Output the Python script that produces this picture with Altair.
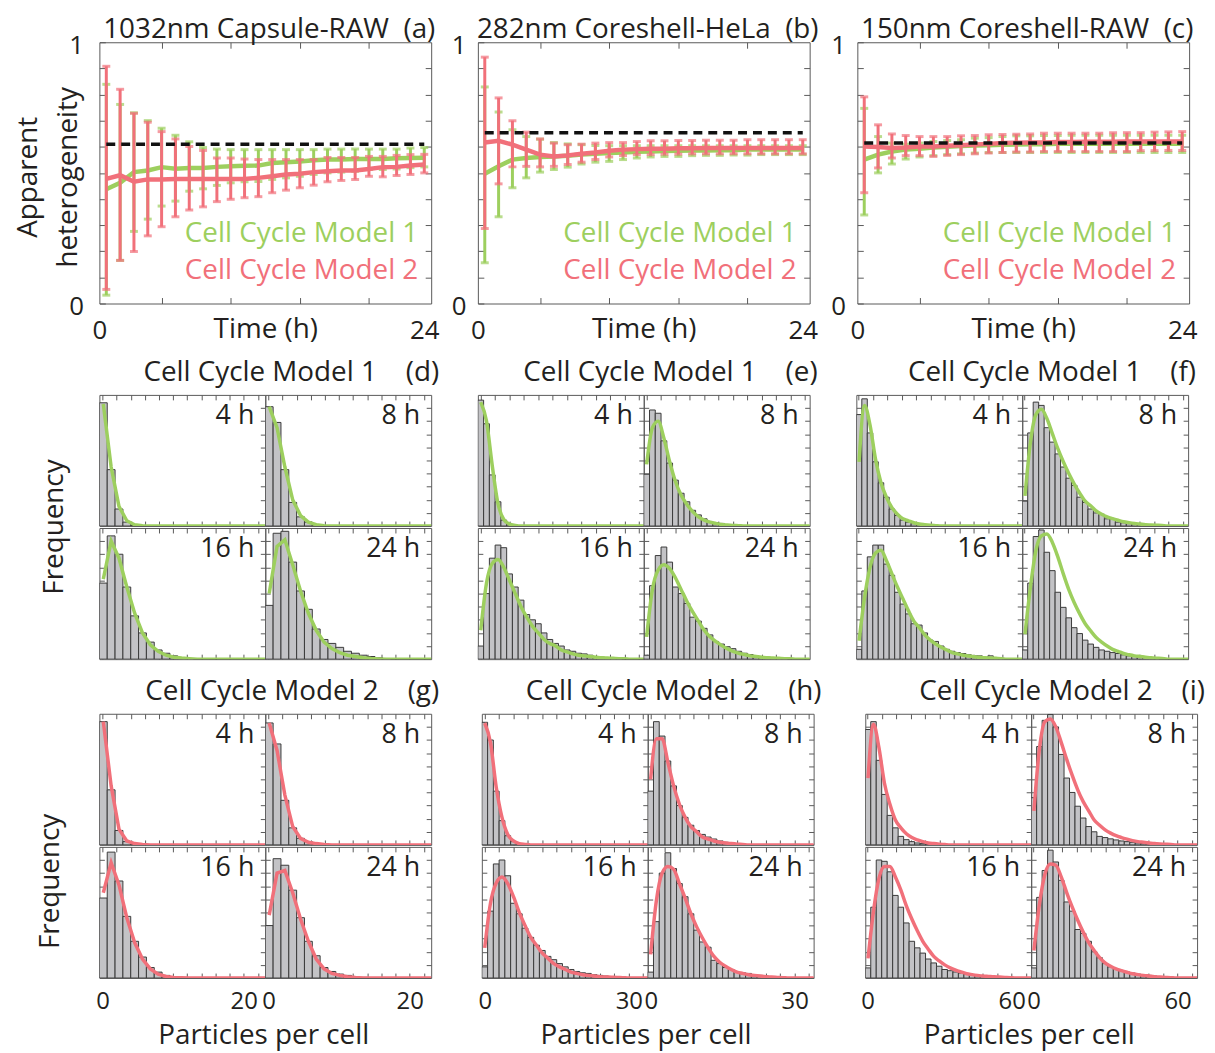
import altair as alt
import pandas as pd

GREEN = "#9DCF5E"
RED = "#F1707A"
BAR_FILL = "#C3C3C6"
BAR_EDGE = "#3A3A3A"
INK = "#231F20"
FRAME = "#5A5A5A"
FONT = "Open Sans"
FS = 28          # titles and annotations
FS_TOP_LAB = 26  # tick labels of the time axes
FS_HIST_LAB = 24 # tick labels of the histograms
NB = "\u00a0"

# ---------------- top panels: apparent heterogeneity vs time ----------------
TIMES = list(range(1, 25))
PANEL_TITLES = [f"1032nm Capsule-RAW{NB}{NB}(a)", f"282nm Coreshell-HeLa{NB}{NB}(b)",
                f"150nm Coreshell-RAW{NB}{NB}(c)"]
MODEL_NAMES = ["Cell Cycle Model 1", "Cell Cycle Model 2"]

A_REF = 0.61
A_M1_MEAN = [0.437, 0.462, 0.503, 0.509, 0.522, 0.516, 0.519, 0.519, 0.523, 0.525, 0.527, 0.528,
             0.538, 0.541, 0.544, 0.548, 0.551, 0.551, 0.553, 0.553, 0.553, 0.556, 0.557, 0.558]
A_M1_HI = [0.839, 0.762, 0.730, 0.700, 0.671, 0.644, 0.619, 0.597, 0.591, 0.589, 0.589, 0.589,
           0.589, 0.589, 0.589, 0.589, 0.591, 0.591, 0.591, 0.591, 0.591, 0.591, 0.595, 0.597]
A_M1_LO = [0.032, 0.165, 0.276, 0.323, 0.373, 0.392, 0.430, 0.439, 0.452, 0.462, 0.466, 0.467,
           0.475, 0.481, 0.487, 0.494, 0.500, 0.503, 0.506, 0.513, 0.513, 0.515, 0.520, 0.523]
A_M2_MEAN = [0.477, 0.491, 0.466, 0.475, 0.475, 0.477, 0.477, 0.477, 0.477, 0.477, 0.477, 0.481,
             0.487, 0.494, 0.497, 0.503, 0.506, 0.509, 0.509, 0.515, 0.522, 0.523, 0.528, 0.532]
A_M2_HI = [0.908, 0.820, 0.728, 0.694, 0.658, 0.630, 0.601, 0.586, 0.557, 0.557, 0.553, 0.551,
           0.551, 0.551, 0.551, 0.551, 0.559, 0.559, 0.559, 0.563, 0.563, 0.567, 0.570, 0.571]
A_M2_LO = [0.054, 0.165, 0.199, 0.259, 0.294, 0.332, 0.358, 0.370, 0.390, 0.399, 0.405, 0.409,
           0.424, 0.434, 0.443, 0.453, 0.466, 0.471, 0.475, 0.487, 0.485, 0.490, 0.494, 0.500]

B_REF = 0.654
B_M1_MEAN = [0.497, 0.525, 0.551, 0.557, 0.561, 0.563, 0.566, 0.570, 0.573, 0.576, 0.578, 0.581,
             0.582, 0.584, 0.585, 0.586, 0.586, 0.587, 0.587, 0.589, 0.589, 0.589, 0.589, 0.589]
B_M1_HI = [0.829, 0.733, 0.665, 0.639, 0.629, 0.616, 0.611, 0.608, 0.605, 0.604, 0.604, 0.604,
           0.604, 0.604, 0.604, 0.604, 0.604, 0.604, 0.604, 0.604, 0.604, 0.604, 0.604, 0.604]
B_M1_LO = [0.156, 0.332, 0.443, 0.481, 0.503, 0.513, 0.522, 0.534, 0.541, 0.544, 0.551, 0.557,
           0.561, 0.563, 0.563, 0.566, 0.567, 0.567, 0.568, 0.568, 0.570, 0.570, 0.570, 0.570]
B_M2_MEAN = [0.616, 0.623, 0.608, 0.589, 0.570, 0.563, 0.567, 0.573, 0.578, 0.585, 0.589, 0.591,
             0.592, 0.592, 0.594, 0.594, 0.595, 0.595, 0.595, 0.595, 0.595, 0.595, 0.595, 0.595]
B_M2_HI = [0.943, 0.787, 0.700, 0.656, 0.630, 0.614, 0.608, 0.610, 0.614, 0.616, 0.616, 0.620,
           0.623, 0.623, 0.624, 0.624, 0.625, 0.625, 0.625, 0.627, 0.627, 0.627, 0.627, 0.627]
B_M2_LO = [0.287, 0.458, 0.523, 0.525, 0.523, 0.525, 0.532, 0.541, 0.551, 0.561, 0.566, 0.570,
           0.570, 0.572, 0.572, 0.573, 0.573, 0.573, 0.573, 0.573, 0.573, 0.573, 0.573, 0.573]

C_REF = 0.614
C_M1_MEAN = [0.551, 0.570, 0.582, 0.589, 0.592, 0.597, 0.600, 0.603, 0.605, 0.606, 0.608, 0.609,
             0.610, 0.610, 0.611, 0.611, 0.611, 0.611, 0.611, 0.611, 0.611, 0.611, 0.611, 0.611]
C_M1_HI = [0.747, 0.639, 0.614, 0.610, 0.614, 0.620, 0.624, 0.627, 0.633, 0.635, 0.639, 0.642,
           0.642, 0.643, 0.643, 0.644, 0.644, 0.644, 0.644, 0.644, 0.644, 0.644, 0.644, 0.644]
C_M1_LO = [0.339, 0.500, 0.534, 0.553, 0.561, 0.566, 0.570, 0.573, 0.576, 0.578, 0.578, 0.578,
           0.578, 0.578, 0.578, 0.578, 0.578, 0.578, 0.578, 0.578, 0.578, 0.578, 0.578, 0.578]
C_M2_MEAN = [0.601, 0.599, 0.595, 0.597, 0.601, 0.601, 0.604, 0.606, 0.609, 0.611, 0.614, 0.615,
             0.616, 0.616, 0.618, 0.618, 0.619, 0.619, 0.619, 0.620, 0.620, 0.620, 0.620, 0.620]
C_M2_HI = [0.791, 0.684, 0.649, 0.643, 0.639, 0.639, 0.639, 0.642, 0.643, 0.646, 0.647, 0.648,
           0.649, 0.652, 0.652, 0.652, 0.652, 0.652, 0.654, 0.654, 0.654, 0.656, 0.657, 0.658]
C_M2_LO = [0.424, 0.519, 0.557, 0.566, 0.566, 0.563, 0.567, 0.570, 0.573, 0.576, 0.578, 0.580,
           0.580, 0.582, 0.582, 0.582, 0.582, 0.582, 0.582, 0.582, 0.585, 0.585, 0.586, 0.586]

# ---------------- histogram panels ----------------
HOURS = ["4 h", "8 h", "16 h", "24 h"]
GROUP_TITLES_M1 = [f"Cell Cycle Model 1{NB * 4}(d)", f"Cell Cycle Model 1{NB * 4}(e)",
                   f"Cell Cycle Model 1{NB * 4}(f)"]
GROUP_TITLES_M2 = [f"Cell Cycle Model 2{NB * 4}(g)", f"Cell Cycle Model 2{NB * 4}(h)",
                   f"Cell Cycle Model 2{NB * 4}(i)"]
X_TITLE = "Particles per cell"
Y_TITLE = "Frequency"

# x range, bin start and bin width (particles per cell) and the labelled maximum
SPEC_D = dict(x0=-0.45, xmax=23.05, bw=1.11, step=2, lab=20)
SPEC_E = dict(x0=-0.62, xmax=33.95, bw=1.2, step=3, lab=30)
SPEC_F = dict(x0=-0.95, xmax=68.1, bw=2.28, step=6, lab=60)

D_BARS = [
    [0.94, 0.43, 0.13, 0.03, 0.005] + [0] * 17,
    [0.91, 0.79, 0.43, 0.18, 0.07, 0.03, 0.01] + [0] * 15,
    [0.58, 0.94, 0.80, 0.55, 0.33, 0.20, 0.13, 0.07, 0.045, 0.025, 0.01, 0.005] + [0] * 10,
    [0.41, 0.96, 0.975, 0.74, 0.52, 0.38, 0.23, 0.15, 0.12, 0.09, 0.06, 0.045, 0.03, 0.02, 0.01, 0.005] + [0] * 6,
]
D_FIT = [
    [0.93, 0.45, 0.15, 0.04, 0.01, 0.003] + [0] * 16,
    [0.91, 0.75, 0.45, 0.20, 0.08, 0.03, 0.01, 0.003] + [0] * 14,
    [0.61, 0.90, 0.77, 0.55, 0.35, 0.20, 0.11, 0.06, 0.03, 0.015, 0.008, 0.004] + [0] * 10,
    [0.50, 0.86, 0.91, 0.72, 0.52, 0.35, 0.22, 0.13, 0.08, 0.05, 0.03, 0.02, 0.01, 0.005, 0.002] + [0] * 7,
]
G_BARS = [
    [0.94, 0.42, 0.11, 0.025, 0.005] + [0] * 17,
    [0.93, 0.77, 0.34, 0.13, 0.05, 0.025, 0.01] + [0] * 15,
    [0.61, 0.96, 0.74, 0.47, 0.28, 0.16, 0.08, 0.045, 0.02, 0.01] + [0] * 12,
    [0.40, 0.91, 0.86, 0.67, 0.46, 0.28, 0.17, 0.08, 0.05, 0.03, 0.02, 0.01, 0.005] + [0] * 9,
]
G_FIT = [
    [0.94, 0.45, 0.12, 0.03, 0.01, 0.003] + [0] * 16,
    [0.93, 0.72, 0.38, 0.14, 0.05, 0.02, 0.01, 0.003] + [0] * 14,
    [0.65, 0.88, 0.71, 0.46, 0.27, 0.145, 0.07, 0.03, 0.012, 0.005, 0.002] + [0] * 11,
    [0.48, 0.80, 0.82, 0.65, 0.45, 0.28, 0.145, 0.07, 0.035, 0.02, 0.01, 0.004] + [0] * 10,
]
E_BARS = [
    [0.96, 0.78, 0.39, 0.185, 0.045, 0.01] + [0] * 24,
    [0.395, 0.885, 0.86, 0.65, 0.48, 0.35, 0.25, 0.185, 0.12, 0.085, 0.055, 0.035, 0.025, 0.02, 0.01,
     0.008, 0.005] + [0] * 13,
    [0.10, 0.50, 0.77, 0.87, 0.85, 0.65, 0.55, 0.45, 0.34, 0.30, 0.27, 0.20, 0.15, 0.12, 0.10, 0.07, 0.06,
     0.045, 0.04, 0.03, 0.02, 0.015, 0.01, 0.008, 0.005] + [0] * 5,
    [0.03, 0.56, 0.79, 0.855, 0.74, 0.55, 0.50, 0.425, 0.32, 0.29, 0.235, 0.185, 0.135, 0.115, 0.095, 0.08,
     0.06, 0.045, 0.035, 0.025, 0.02, 0.015, 0.01, 0.008, 0.005] + [0] * 5,
]
E_FIT = [
    [0.945, 0.80, 0.46, 0.17, 0.05, 0.015, 0.005] + [0] * 23,
    [0.47, 0.75, 0.80, 0.67, 0.49, 0.34, 0.235, 0.165, 0.11, 0.07, 0.045, 0.03, 0.02, 0.012, 0.008, 0.005,
     0.003] + [0] * 13,
    [0.22, 0.58, 0.73, 0.76, 0.70, 0.60, 0.50, 0.40, 0.32, 0.25, 0.20, 0.15, 0.12, 0.10, 0.07, 0.055, 0.04,
     0.03, 0.025, 0.02, 0.015, 0.01, 0.008, 0.006, 0.004, 0.003] + [0] * 4,
    [0.17, 0.53, 0.68, 0.72, 0.69, 0.62, 0.53, 0.44, 0.36, 0.29, 0.22, 0.17, 0.135, 0.105, 0.08, 0.06, 0.045,
     0.035, 0.025, 0.02, 0.015, 0.01, 0.008, 0.006, 0.004, 0.003] + [0] * 4,
]
H_BARS = [
    [0.935, 0.80, 0.41, 0.185, 0.07, 0.025, 0.01] + [0] * 23,
    [0.41, 0.94, 0.83, 0.64, 0.45, 0.30, 0.21, 0.15, 0.11, 0.08, 0.06, 0.045, 0.03, 0.02, 0.015, 0.01,
     0.005] + [0] * 13,
    [0.085, 0.51, 0.87, 0.90, 0.78, 0.57, 0.49, 0.38, 0.31, 0.25, 0.21, 0.165, 0.14, 0.11, 0.085, 0.065,
     0.05, 0.04, 0.035, 0.025, 0.02, 0.015, 0.01, 0.008, 0.005] + [0] * 5,
    [0.045, 0.43, 0.80, 0.955, 0.835, 0.72, 0.62, 0.49, 0.365, 0.275, 0.235, 0.135, 0.11, 0.08, 0.065,
     0.045, 0.04, 0.035, 0.025, 0.02, 0.015, 0.01, 0.008, 0.005] + [0] * 6,
]
H_FIT = [
    [0.93, 0.78, 0.44, 0.21, 0.08, 0.03, 0.01, 0.004] + [0] * 22,
    [0.50, 0.81, 0.81, 0.63, 0.45, 0.31, 0.21, 0.14, 0.10, 0.06, 0.045, 0.03, 0.02, 0.015, 0.01, 0.006,
     0.004] + [0] * 13,
    [0.23, 0.57, 0.725, 0.77, 0.72, 0.62, 0.50, 0.40, 0.31, 0.25, 0.19, 0.15, 0.11, 0.085, 0.065, 0.045,
     0.035, 0.025, 0.02, 0.015, 0.01, 0.008, 0.006, 0.004, 0.003] + [0] * 5,
    [0.18, 0.59, 0.80, 0.85, 0.83, 0.72, 0.61, 0.49, 0.39, 0.305, 0.23, 0.165, 0.12, 0.09, 0.065, 0.045,
     0.035, 0.025, 0.02, 0.015, 0.01, 0.007, 0.005, 0.003] + [0] * 6,
]
F_BARS = [
    [0.85, 0.97, 0.71, 0.49, 0.33, 0.22, 0.13, 0.08, 0.045, 0.03, 0.018, 0.01, 0.005] + [0] * 18,
    [0.19, 0.71, 0.945, 0.92, 0.75, 0.64, 0.55, 0.45, 0.365, 0.31, 0.22, 0.18, 0.13, 0.10, 0.09, 0.055,
     0.055, 0.03, 0.025, 0.018, 0.013, 0.01, 0.008, 0.005] + [0] * 7,
    [0.075, 0.52, 0.78, 0.87, 0.87, 0.725, 0.64, 0.51, 0.42, 0.345, 0.27, 0.26, 0.20, 0.145, 0.135, 0.10,
     0.075, 0.06, 0.05, 0.043, 0.033, 0.025, 0.025, 0.013, 0.025, 0.01, 0.005] + [0] * 4,
    [0.07, 0.58, 0.935, 0.985, 0.815, 0.675, 0.51, 0.395, 0.315, 0.24, 0.195, 0.145, 0.115, 0.09, 0.07,
     0.06, 0.05, 0.043, 0.033, 0.025, 0.02, 0.015, 0.013, 0.01, 0.005] + [0] * 6,
]
F_FIT = [
    [0.49, 0.92, 0.77, 0.51, 0.33, 0.22, 0.14, 0.09, 0.055, 0.04, 0.025, 0.015, 0.01, 0.006, 0.003] + [0] * 16,
    [0.23, 0.64, 0.85, 0.89, 0.82, 0.705, 0.59, 0.49, 0.40, 0.32, 0.25, 0.19, 0.155, 0.115, 0.09, 0.07,
     0.056, 0.044, 0.033, 0.026, 0.02, 0.015, 0.01, 0.008, 0.006, 0.004] + [0] * 5,
    [0.14, 0.47, 0.70, 0.81, 0.83, 0.75, 0.65, 0.55, 0.46, 0.37, 0.29, 0.24, 0.185, 0.145, 0.115, 0.09,
     0.07, 0.05, 0.04, 0.03, 0.024, 0.018, 0.014, 0.01, 0.008, 0.006, 0.004] + [0] * 4,
    [0.19, 0.55, 0.83, 0.94, 0.955, 0.89, 0.78, 0.65, 0.53, 0.43, 0.345, 0.27, 0.215, 0.165, 0.13, 0.10,
     0.075, 0.06, 0.043, 0.033, 0.025, 0.02, 0.015, 0.01, 0.007, 0.005] + [0] * 5,
]
I_BARS = [
    [0.88, 0.94, 0.645, 0.385, 0.225, 0.13, 0.065, 0.04, 0.025, 0.015, 0.01, 0.005] + [0] * 19,
    [0.36, 0.75, 0.95, 0.995, 0.90, 0.69, 0.51, 0.40, 0.295, 0.205, 0.14, 0.10, 0.065, 0.056, 0.046, 0.038,
     0.03, 0.025, 0.02, 0.015, 0.01, 0.008, 0.005] + [0] * 8,
    [0.077, 0.54, 0.90, 0.89, 0.81, 0.63, 0.54, 0.42, 0.28, 0.23, 0.19, 0.145, 0.115, 0.09, 0.065, 0.056,
     0.046, 0.038, 0.03, 0.026, 0.02, 0.015, 0.012, 0.01, 0.005] + [0] * 6,
    [0.077, 0.615, 0.82, 0.975, 0.885, 0.745, 0.58, 0.51, 0.37, 0.34, 0.28, 0.20, 0.155, 0.11, 0.085, 0.07,
     0.056, 0.046, 0.038, 0.03, 0.026, 0.02, 0.015, 0.01, 0.005] + [0] * 6,
]
I_FIT = [
    [0.51, 0.92, 0.74, 0.47, 0.31, 0.19, 0.13, 0.085, 0.056, 0.038, 0.025, 0.015, 0.01, 0.006, 0.003] + [0] * 16,
    [0.26, 0.73, 0.94, 0.96, 0.90, 0.78, 0.65, 0.53, 0.42, 0.33, 0.26, 0.19, 0.15, 0.115, 0.09, 0.07, 0.056,
     0.044, 0.033, 0.025, 0.02, 0.015, 0.01, 0.007, 0.005, 0.003] + [0] * 5,
    [0.15, 0.51, 0.76, 0.85, 0.85, 0.77, 0.67, 0.55, 0.45, 0.36, 0.28, 0.22, 0.165, 0.13, 0.10, 0.077, 0.06,
     0.046, 0.033, 0.026, 0.02, 0.015, 0.012, 0.009, 0.007, 0.005, 0.003] + [0] * 4,
    [0.21, 0.56, 0.79, 0.87, 0.86, 0.77, 0.65, 0.54, 0.44, 0.35, 0.27, 0.21, 0.155, 0.115, 0.09, 0.07, 0.056,
     0.044, 0.033, 0.026, 0.02, 0.015, 0.01, 0.007, 0.005, 0.003] + [0] * 5,
]

TOP_W, TOP_H = 334, 263
SUB_W, SUB_H = 167, 132
TICK = 6


def title_params(text, **kw):
    return alt.TitleParams(text, font=FONT, fontSize=FS, fontWeight="normal", color=INK, **kw)


def top_panel(title, m1, m1lo, m1hi, m2, m2lo, m2hi, ref, first):
    df = pd.DataFrame(dict(t=TIMES, m1=m1, m1lo=m1lo, m1hi=m1hi, m2=m2, m2lo=m2lo, m2hi=m2hi))
    xs = alt.Scale(domain=[0.5, 24.5], nice=False, zero=False)
    ys = alt.Scale(domain=[0, 1], nice=False, zero=False)
    bottom_axis = alt.Axis(
        orient="bottom", values=[0.5, 5, 10, 15, 20, 24],
        labelExpr="datum.value == 0.5 ? '0' : (datum.value == 24 ? '24' : '')",
        tickOpacity={"condition": {"test": "datum.value == 0.5 || datum.value == 24", "value": 0}, "value": 1},
        tickSize=TICK, offset=-TICK, labelPadding=14, labelFlush=False, domain=False, grid=False,
        labelFontSize=FS_TOP_LAB, title="Time (h)", titleY=18, titleBaseline="top")
    left_kw = dict(orient="left", values=[i / 10 for i in range(11)],
                   labelExpr="datum.value == 0 ? '0' : (datum.value == 1 ? '1' : '')",
                   tickSize=TICK, offset=-TICK, labelPadding=16 if first else 12, labelOffset=3,
                   labelFontSize=FS_TOP_LAB, domain=False, grid=False)
    if first:
        left_kw.update(title=["Apparent", "heterogeneity"], titleX=-77, titleY=TOP_H / 2 + 4,
                       titleAngle=270, titleAlign="center", titleBaseline="middle", titleLineHeight=40)
    else:
        left_kw.update(title=None)
    left_axis = alt.Axis(**left_kw)
    top_axis = alt.Axis(orient="top", values=[5, 10, 15, 20], labels=False, tickSize=TICK, offset=-TICK,
                        domain=False, grid=False, title=None)
    right_axis = alt.Axis(orient="right", values=[i / 10 for i in range(1, 10)], labels=False, tickSize=TICK,
                          offset=-TICK, domain=False, grid=False, title=None)

    base = alt.Chart(df)
    layers = []
    for key, color in (("m1", GREEN), ("m2", RED)):
        layers.append(base.mark_rule(color=color, strokeWidth=3).encode(
            x=alt.X("t:Q", scale=xs, axis=None),
            y=alt.Y(f"{key}lo:Q", scale=ys, axis=None), y2=alt.Y2(f"{key}hi")))
        for end in ("lo", "hi"):
            layers.append(base.mark_tick(color=color, orient="horizontal", size=8, thickness=3).encode(
                x=alt.X("t:Q", scale=xs, axis=None), y=alt.Y(f"{key}{end}:Q", scale=ys, axis=None)))
        layers.append(base.mark_line(color=color, strokeWidth=4.5).encode(
            x=alt.X("t:Q", scale=xs, axis=bottom_axis if key == "m1" else None),
            y=alt.Y(f"{key}:Q", scale=ys, axis=left_axis if key == "m1" else None)))
    ref_df = pd.DataFrame({"x": [TIMES[0]], "x2": [TIMES[-1]], "y": [ref]})
    layers.append(alt.Chart(ref_df).mark_rule(color="#111111", strokeWidth=3.5, strokeDash=[9, 6]).encode(
        x=alt.X("x:Q", scale=xs, axis=top_axis), x2=alt.X2("x2"),
        y=alt.Y("y:Q", scale=ys, axis=right_axis)))
    for name, color, py in ((MODEL_NAMES[0], GREEN, 193), (MODEL_NAMES[1], RED, 230)):
        layers.append(alt.Chart(pd.DataFrame({"s": [name]})).mark_text(
            align="right", baseline="middle", font=FONT, fontSize=FS, color=color).encode(
            x=alt.value(321), y=alt.value(py), text="s:N"))
    return alt.layer(*layers).resolve_axis(x="independent", y="independent").properties(
        width=TOP_W, height=TOP_H,
        title=title_params(title, anchor="middle", frame="group", dx=4, offset=-12))


def hist_panel(bars, fit, spec, color, hour, linear, bottom_labels):
    x0, bw = spec["x0"], spec["bw"]
    bdf = pd.DataFrame({"lo": [x0 + i * bw for i in range(len(bars))], "f": bars})
    bdf["hi"] = bdf["lo"] + bw
    bdf["base"] = 0.0
    fdf = pd.DataFrame({"c": [x0 + (i + 0.5) * bw for i in range(len(fit))], "v": fit})
    xs = alt.Scale(domain=[x0, spec["xmax"]], nice=False, zero=False)
    ys = alt.Scale(domain=[0, 1], nice=False, zero=False)
    ticks = list(range(0, int(spec["xmax"]) + 1, spec["step"]))
    bkw = dict(orient="bottom", values=ticks, tickSize=5, offset=-5, domain=False, grid=False,
               labelPadding=12, labelFlush=False, labelFontSize=FS_HIST_LAB, title=None)
    if bottom_labels:
        bkw["labelExpr"] = f"datum.value == 0 || datum.value == {spec['lab']} ? datum.label : ''"
    else:
        bkw["labels"] = False
    yticks = [i / 10 for i in range(1, 10)]
    left_axis = alt.Axis(orient="left", values=yticks, tickSize=5, offset=-5, labels=False,
                         domain=False, grid=False, title=None)
    top_axis = alt.Axis(orient="top", values=ticks, labels=False, tickSize=5, offset=-5, domain=False,
                        grid=False, title=None)
    right_axis = alt.Axis(orient="right", values=yticks, labels=False, tickSize=5,
                          offset=-5, domain=False, grid=False, title=None)
    bar_layer = alt.Chart(bdf).mark_bar(fill=BAR_FILL, stroke=BAR_EDGE, strokeWidth=1, clip=True).encode(
        x=alt.X("lo:Q", scale=xs, axis=alt.Axis(**bkw)), x2=alt.X2("hi"),
        y=alt.Y("f:Q", scale=ys, axis=left_axis), y2=alt.Y2("base"))
    line_layer = alt.Chart(fdf).mark_line(color=color, strokeWidth=3.5, clip=True,
                                          interpolate="linear" if linear else "monotone").encode(
        x=alt.X("c:Q", scale=xs, axis=top_axis), y=alt.Y("v:Q", scale=ys, axis=right_axis))
    label = alt.Chart(pd.DataFrame({"s": [hour]})).mark_text(
        align="right", baseline="middle", font=FONT, fontSize=FS - 1, color=INK).encode(
        x=alt.value(156), y=alt.value(21), text="s:N")
    return alt.layer(bar_layer, line_layer, label).resolve_axis(x="independent", y="independent").properties(
        width=SUB_W, height=SUB_H)


def group(bars, fits, spec, color, title, linear, bottom_row, first):
    panels = [hist_panel(bars[k], fits[k], spec, color, HOURS[k], linear, bottom_row and k >= 2)
              for k in range(4)]
    top = alt.hconcat(panels[0], panels[1], spacing=0, bounds="flush")
    bot = alt.hconcat(panels[2], panels[3], spacing=0, bounds="flush")
    if bottom_row:
        bot = bot.properties(title=title_params(X_TITLE, orient="bottom", anchor="middle", offset=8))
    inner = alt.vconcat(top, bot, spacing=0)
    if first:
        inner = inner.properties(title=title_params(Y_TITLE, orient="left", anchor="middle", offset=30))
    return alt.vconcat(inner, spacing=0).properties(
        title=title_params(title, anchor="end", dx=7, offset=7))


row1 = alt.hconcat(
    top_panel(PANEL_TITLES[0], A_M1_MEAN, A_M1_LO, A_M1_HI, A_M2_MEAN, A_M2_LO, A_M2_HI, A_REF, True),
    top_panel(PANEL_TITLES[1], B_M1_MEAN, B_M1_LO, B_M1_HI, B_M2_MEAN, B_M2_LO, B_M2_HI, B_REF, False),
    top_panel(PANEL_TITLES[2], C_M1_MEAN, C_M1_LO, C_M1_HI, C_M2_MEAN, C_M2_LO, C_M2_HI, C_REF, False),
    spacing=10)
row2 = alt.hconcat(
    group(D_BARS, D_FIT, SPEC_D, GREEN, GROUP_TITLES_M1[0], True, False, True),
    group(E_BARS, E_FIT, SPEC_E, GREEN, GROUP_TITLES_M1[1], False, False, False),
    group(F_BARS, F_FIT, SPEC_F, GREEN, GROUP_TITLES_M1[2], False, False, False),
    spacing=38)
row3 = alt.hconcat(
    group(G_BARS, G_FIT, SPEC_D, RED, GROUP_TITLES_M2[0], True, True, True),
    group(H_BARS, H_FIT, SPEC_E, RED, GROUP_TITLES_M2[1], False, True, False),
    group(I_BARS, I_FIT, SPEC_F, RED, GROUP_TITLES_M2[2], False, True, False),
    spacing=38)

chart = alt.vconcat(row1, alt.vconcat(row2, row3, spacing=18), spacing=15).properties(
    padding={"left": 6, "top": 4, "right": 2, "bottom": 0}
).configure_view(
    stroke=FRAME, strokeWidth=1
).configure_axis(
    labelFont=FONT, titleFont=FONT, labelFontSize=FS, titleFontSize=FS, labelColor=INK, titleColor=INK,
    titleFontWeight="normal", tickColor=FRAME, tickWidth=1
).configure_title(font=FONT, fontSize=FS, fontWeight="normal", color=INK)

chart.save("out.html", embed_options={"renderer": "svg", "actions": False})
